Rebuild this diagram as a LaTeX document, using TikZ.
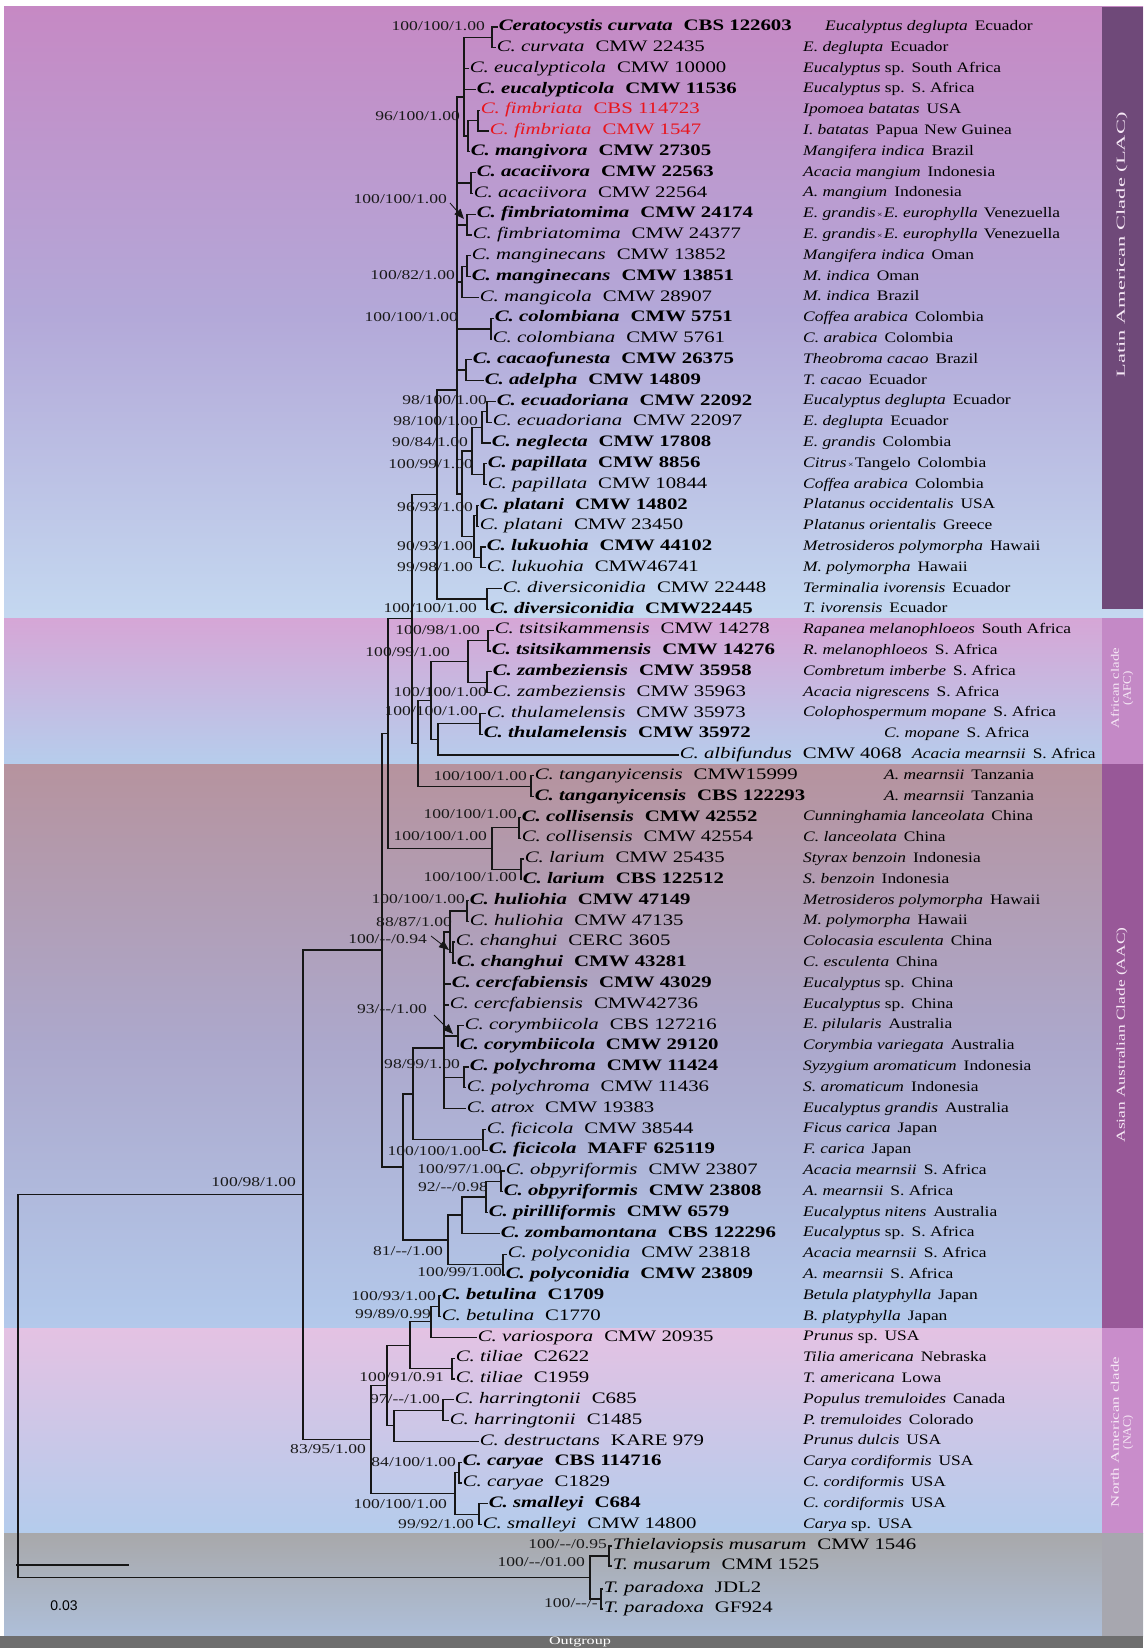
\documentclass[tikz,border=0pt]{standalone}
\usepackage{fontspec}
\usepackage{graphicx}
\setmainfont[FakeStretch=1.3]{Liberation Serif}
\newfontfamily\hostfont[FakeStretch=1.2]{Liberation Serif}
\newfontfamily\barfont{Liberation Serif}
\newfontfamily\sbarfont{Liberation Sans}
\usetikzlibrary{arrows.meta}
\definecolor{treec}{HTML}{161616}
\definecolor{redc}{HTML}{E8161E}
\definecolor{lacA}{HTML}{C689C4}
\definecolor{lacB}{HTML}{B3A8D8}
\definecolor{lacC}{HTML}{C4D8F0}
\definecolor{afcA}{HTML}{D6A6D6}
\definecolor{afcB}{HTML}{B6CDEC}
\definecolor{aacA}{HTML}{B6939E}
\definecolor{aacB}{HTML}{ACA8CC}
\definecolor{aacC}{HTML}{B3C9EB}
\definecolor{nacA}{HTML}{E4C2E3}
\definecolor{nacB}{HTML}{B4CCEC}
\definecolor{outA}{HTML}{A8A8AA}
\definecolor{outB}{HTML}{AEBFD9}
\definecolor{barbot}{HTML}{6E6E6E}
\definecolor{barLAC}{HTML}{6F4979}
\definecolor{barAFC}{HTML}{C489C6}
\definecolor{barAAC}{HTML}{985898}
\definecolor{barNAC}{HTML}{C98DCB}
\definecolor{barOUT}{HTML}{A7A7AF}
\definecolor{bartext}{HTML}{F6E8F6}
\newcommand{\txn}[2]{\textit{#1}\hspace{11pt}#2}
\newcommand{\txb}[2]{{\bfseries\textit{#1}\hspace{11pt}#2}}
\newcommand{\hst}[2]{\textit{#1}\hspace{7pt}#2}
\newcommand{\tms}{{\fontsize{8}{8}\selectfont\,×\,}}
\newcommand{\dd}{-{}-}
\tikzset{
  br/.style={draw=treec, line width=1.1pt},
  thk/.style={draw=treec, line width=2.2pt},
  tax/.style={anchor=west, inner sep=0.6pt, font=\fontsize{16}{18}\selectfont, text height=11pt, text depth=3.5pt, text=black},
  taxr/.style={tax, text=redc},
  hostn/.style={anchor=west, inner sep=0pt, font=\hostfont\fontsize{14.5}{16}\selectfont, text height=10pt, text depth=3pt},
  supl/.style={anchor=east, inner sep=0pt, font=\fontsize{13.5}{15}\selectfont, text height=9.5pt, text depth=2.5pt, text=black!90},
  arr/.style={draw=treec, fill=treec, line width=0.8pt, -{Triangle[length=10pt,width=8pt]}},
  bartxt/.style={rotate=90, text=bartext, font=\barfont, inner sep=0pt, align=center},
}
\begin{document}
\begin{tikzpicture}[x=1pt,y=-1pt]
\useasboundingbox (0,0) rectangle (1143,1648);
\fill[white] (0,0) rectangle (1143,1648);
% background bands
\shade[top color=lacA, bottom color=lacC, middle color=lacB] (4,7) rectangle (1143,618);
\shade[top color=afcA, bottom color=afcB] (4,618) rectangle (1143,764);
\shade[top color=aacA, bottom color=aacC, middle color=aacB] (4,764) rectangle (1143,1328);
\shade[top color=nacA, bottom color=nacB] (4,1328) rectangle (1143,1533);
\shade[top color=outA, bottom color=outB] (4,1533) rectangle (1143,1636);
\fill[barbot] (0,1636) rectangle (1143,1648);
% right clade bars
\fill[barLAC] (1102,7) rectangle (1143,609);
\fill[barAFC] (1102,618) rectangle (1143,764);
\fill[barAAC] (1102,764) rectangle (1143,1328);
\fill[barNAC] (1102,1328) rectangle (1143,1533);
\fill[barOUT] (1102,1533) rectangle (1143,1636);
\node[bartxt] (bLAC) at (1122,245) {\resizebox{265pt}{8.5pt}{Latin American Clade (LAC)}};
\node[bartxt] (bAFC) at (1122,688) {\resizebox{80pt}{8pt}{African clade}\\\resizebox{34pt}{8pt}{(AFC)}};
\node[bartxt] (bAAC) at (1122,1035) {\resizebox{215pt}{8.5pt}{Asian Australian Clade (AAC)}};
\node[bartxt] (bNAC) at (1122,1432) {\resizebox{150pt}{8pt}{North American clade}\\\resizebox{34pt}{8pt}{(NAC)}};
\node[text=white, inner sep=0pt, font=\barfont] (og) at (580,1642) {\resizebox{62pt}{7.5pt}{Outgroup}};
% scale bar
\coordinate (sb1) at (16,1565);
\coordinate (sb2) at (129,1565);
\draw[draw=treec, line width=1.3pt] (sb1) -- (sb2);
\node[font=\sbarfont\fontsize{14}{16}\selectfont, inner sep=0pt] (sbl) at (64,1606) {0.03};
% support labels
\node[supl] (L1) at (485,27) {100/100/1.00};
\node[supl] (L2) at (460,117) {96/100/1.00};
\node[supl] (L3) at (447,200) {100/100/1.00};
\node[supl] (L4) at (455,276) {100/82/1.00};
\node[supl] (L5) at (458,318) {100/100/1.00};
\node[supl] (L6) at (487,401) {98/100/1.00};
\node[supl] (L7) at (478,422) {98/100/1.00};
\node[supl] (L8) at (468,443) {90/84/1.00};
\node[supl] (L9) at (473,465) {100/99/1.00};
\node[supl] (L10) at (473,508) {96/93/1.00};
\node[supl] (L11) at (473,547) {90/93/1.00};
\node[supl] (L12) at (473,568) {99/98/1.00};
\node[supl] (L13) at (477,609) {100/100/1.00};
\node[supl] (L14) at (480,631) {100/98/1.00};
\node[supl] (L15) at (450,653) {100/99/1.00};
\node[supl] (L16) at (487,693) {100/100/1.00};
\node[supl] (L17) at (478,712) {100/100/1.00};
\node[supl] (L18) at (527,777) {100/100/1.00};
\node[supl] (L19) at (517,815) {100/100/1.00};
\node[supl] (L20) at (487,837) {100/100/1.00};
\node[supl] (L21) at (517,878) {100/100/1.00};
\node[supl] (L22) at (465,900) {100/100/1.00};
\node[supl] (L23) at (452,923) {88/87/1.00};
\node[supl] (L24) at (427,940) {100/\dd/0.94};
\node[supl] (L25) at (427,1010) {93/\dd/1.00};
\node[supl] (L26) at (460,1065) {98/99/1.00};
\node[supl] (L27) at (481,1152) {100/100/1.00};
\node[supl] (L28) at (502,1170) {100/97/1.00};
\node[supl] (L29) at (488,1188) {92/\dd/0.98};
\node[supl] (L30) at (443,1252) {81/\dd/1.00};
\node[supl] (L31) at (502,1273) {100/99/1.00};
\node[supl] (L32) at (436,1297) {100/93/1.00};
\node[supl] (L33) at (431,1315) {99/89/0.99};
\node[supl] (L34) at (444,1378) {100/91/0.91};
\node[supl] (L35) at (440,1400) {97/\dd/1.00};
\node[supl] (L36) at (366,1450) {83/95/1.00};
\node[supl] (L37) at (456,1463) {84/100/1.00};
\node[supl] (L38) at (447,1505) {100/100/1.00};
\node[supl] (L39) at (474,1525) {99/92/1.00};
\node[supl] (L40) at (607,1545) {100/\dd/0.95};
\node[supl] (L41) at (585,1563) {100/\dd/01.00};
\node[supl] (L42) at (598,1604) {100/\dd/-};
\node[supl] (L43) at (296,1183) {100/98/1.00};
% taxa
\node[tax] (t1) at (498,27) {\txb{Ceratocystis curvata}{CBS 122603}};
\node[tax] (t2) at (496,47.8) {\txn{C. curvata}{CMW 22435}};
\node[tax] (t3) at (469,68.6) {\txn{C. eucalypticola}{CMW 10000}};
\node[tax] (t4) at (476,89.4) {\txb{C. eucalypticola}{CMW 11536}};
\node[taxr] (t5) at (480,110.2) {\txn{C. fimbriata}{CBS 114723}};
\node[taxr] (t6) at (489,131) {\txn{C. fimbriata}{CMW 1547}};
\node[tax] (t7) at (470,151.8) {\txb{C. mangivora}{CMW 27305}};
\node[tax] (t8) at (476,172.6) {\txb{C. acaciivora}{CMW 22563}};
\node[tax] (t9) at (473,193.4) {\txn{C. acaciivora}{CMW 22564}};
\node[tax] (t10) at (476,214.2) {\txb{C. fimbriatomima}{CMW 24174}};
\node[tax] (t11) at (472,235) {\txn{C. fimbriatomima}{CMW 24377}};
\node[tax] (t12) at (471,255.8) {\txn{C. manginecans}{CMW 13852}};
\node[tax] (t13) at (471,276.6) {\txb{C. manginecans}{CMW 13851}};
\node[tax] (t14) at (479,297.4) {\txn{C. mangicola}{CMW 28907}};
\node[tax] (t15) at (494,318.2) {\txb{C. colombiana}{CMW 5751}};
\node[tax] (t16) at (492,339) {\txn{C. colombiana}{CMW 5761}};
\node[tax] (t17) at (472,359.8) {\txb{C. cacaofunesta}{CMW 26375}};
\node[tax] (t18) at (484,380.6) {\txb{C. adelpha}{CMW 14809}};
\node[tax] (t19) at (496,401.4) {\txb{C. ecuadoriana}{CMW 22092}};
\node[tax] (t20) at (492,422.2) {\txn{C. ecuadoriana}{CMW 22097}};
\node[tax] (t21) at (491,443) {\txb{C. neglecta}{CMW 17808}};
\node[tax] (t22) at (487,463.8) {\txb{C. papillata}{CMW 8856}};
\node[tax] (t23) at (487,484.6) {\txn{C. papillata}{CMW 10844}};
\node[tax] (t24) at (479,505.4) {\txb{C. platani}{CMW 14802}};
\node[tax] (t25) at (479,526.2) {\txn{C. platani}{CMW 23450}};
\node[tax] (t26) at (486,547) {\txb{C. lukuohia}{CMW 44102}};
\node[tax] (t27) at (486,567.8) {\txn{C. lukuohia}{CMW46741}};
\node[tax] (t28) at (502,588.6) {\txn{C. diversiconidia}{CMW 22448}};
\node[tax] (t29) at (489,609.4) {\txb{C. diversiconidia}{CMW22445}};
\node[tax] (t30) at (494,630.2) {\txn{C. tsitsikammensis}{CMW 14278}};
\node[tax] (t31) at (491,651) {\txb{C. tsitsikammensis}{CMW 14276}};
\node[tax] (t32) at (492,671.8) {\txb{C. zambeziensis}{CMW 35958}};
\node[tax] (t33) at (492,692.6) {\txn{C. zambeziensis}{CMW 35963}};
\node[tax] (t34) at (486,713.4) {\txn{C. thulamelensis}{CMW 35973}};
\node[tax] (t35) at (483,734.2) {\txb{C. thulamelensis}{CMW 35972}};
\node[tax] (t36) at (679,755) {\txn{C. albifundus}{CMW 4068}};
\node[tax] (t37) at (534,775.8) {\txn{C. tanganyicensis}{CMW15999}};
\node[tax] (t38) at (534,796.6) {\txb{C. tanganyicensis}{CBS 122293}};
\node[tax] (t39) at (521,817.4) {\txb{C. collisensis}{CMW 42552}};
\node[tax] (t40) at (521,838.2) {\txn{C. collisensis}{CMW 42554}};
\node[tax] (t41) at (524,859) {\txn{C. larium}{CMW 25435}};
\node[tax] (t42) at (522,879.8) {\txb{C. larium}{CBS 122512}};
\node[tax] (t43) at (469,900.6) {\txb{C. huliohia}{CMW 47149}};
\node[tax] (t44) at (469,921.4) {\txn{C. huliohia}{CMW 47135}};
\node[tax] (t45) at (455,942.2) {\txn{C. changhui}{CERC\hspace{6pt}3605}};
\node[tax] (t46) at (456,963) {\txb{C. changhui}{CMW 43281}};
\node[tax] (t47) at (451,983.8) {\txb{C. cercfabiensis}{CMW 43029}};
\node[tax] (t48) at (449,1004.6) {\txn{C. cercfabiensis}{CMW42736}};
\node[tax] (t49) at (464,1025.4) {\txn{C. corymbiicola}{CBS 127216}};
\node[tax] (t50) at (459,1046.2) {\txb{C. corymbiicola}{CMW 29120}};
\node[tax] (t51) at (469,1067) {\txb{C. polychroma}{CMW 11424}};
\node[tax] (t52) at (466,1087.8) {\txn{C. polychroma}{CMW 11436}};
\node[tax] (t53) at (466,1108.6) {\txn{C. atrox}{CMW 19383}};
\node[tax] (t54) at (486,1129.4) {\txn{C. ficicola}{CMW 38544}};
\node[tax] (t55) at (488,1150.2) {\txb{C. ficicola}{MAFF\hspace{6pt}625119}};
\node[tax] (t56) at (505,1171) {\txn{C. obpyriformis}{CMW 23807}};
\node[tax] (t57) at (503,1191.8) {\txb{C. obpyriformis}{CMW 23808}};
\node[tax] (t58) at (488,1212.6) {\txb{C. pirilliformis}{CMW 6579}};
\node[tax] (t59) at (500,1233.4) {\txb{C. zombamontana}{CBS 122296}};
\node[tax] (t60) at (507,1254.2) {\txn{C. polyconidia}{CMW 23818}};
\node[tax] (t61) at (505,1275) {\txb{C. polyconidia}{CMW 23809}};
\node[tax] (t62) at (441,1295.8) {\txb{C. betulina}{C1709}};
\node[tax] (t63) at (441,1316.6) {\txn{C. betulina}{C1770}};
\node[tax] (t64) at (477,1337.4) {\txn{C. variospora}{CMW 20935}};
\node[tax] (t65) at (455,1358.2) {\txn{C. tiliae}{C2622}};
\node[tax] (t66) at (455,1379) {\txn{C. tiliae}{C1959}};
\node[tax] (t67) at (454,1399.8) {\txn{C. harringtonii}{C685}};
\node[tax] (t68) at (449,1420.6) {\txn{C. harringtonii}{C1485}};
\node[tax] (t69) at (479,1441.4) {\txn{C. destructans}{KARE 979}};
\node[tax] (t70) at (462,1462.2) {\txb{C. caryae}{CBS 114716}};
\node[tax] (t71) at (462,1483) {\txn{C. caryae}{C1829}};
\node[tax] (t72) at (488,1503.8) {\txb{C. smalleyi}{C684}};
\node[tax] (t73) at (482,1524.6) {\txn{C. smalleyi}{CMW 14800}};
\node[tax] (t74) at (612,1546) {\txn{Thielaviopsis musarum}{CMW 1546}};
\node[tax] (t75) at (612,1566) {\txn{T. musarum}{CMM 1525}};
\node[tax] (t76) at (603,1589) {\txn{T. paradoxa}{JDL2}};
\node[tax] (t77) at (603,1609) {\txn{T. paradoxa}{GF924}};
% hosts
\node[hostn] (h1) at (825,27) {\hst{Eucalyptus deglupta}{Ecuador}};
\node[hostn] (h2) at (803,47.8) {\hst{E. deglupta}{Ecuador}};
\node[hostn] (h3) at (803,68.6) {\textit{Eucalyptus} sp.\hspace{7pt}South Africa};
\node[hostn] (h4) at (803,89.4) {\textit{Eucalyptus} sp.\hspace{7pt}S. Africa};
\node[hostn] (h5) at (803,110.2) {\hst{Ipomoea batatas}{USA}};
\node[hostn] (h6) at (803,131) {\hst{I. batatas}{Papua\hspace{6pt}New Guinea}};
\node[hostn] (h7) at (803,151.8) {\hst{Mangifera indica}{Brazil}};
\node[hostn] (h8) at (803,172.6) {\hst{Acacia mangium}{Indonesia}};
\node[hostn] (h9) at (803,193.4) {\hst{A. mangium}{Indonesia}};
\node[hostn] (h10) at (803,214.2) {\textit{E. grandis}\tms\textit{E. europhylla}\hspace{6pt}Venezuella};
\node[hostn] (h11) at (803,235) {\textit{E. grandis}\tms\textit{E. europhylla}\hspace{6pt}Venezuella};
\node[hostn] (h12) at (803,255.8) {\hst{Mangifera indica}{Oman}};
\node[hostn] (h13) at (803,276.6) {\hst{M. indica}{Oman}};
\node[hostn] (h14) at (803,297.4) {\hst{M. indica}{Brazil}};
\node[hostn] (h15) at (803,318.2) {\hst{Coffea arabica}{Colombia}};
\node[hostn] (h16) at (803,339) {\hst{C. arabica}{Colombia}};
\node[hostn] (h17) at (803,359.8) {\hst{Theobroma cacao}{Brazil}};
\node[hostn] (h18) at (803,380.6) {\hst{T. cacao}{Ecuador}};
\node[hostn] (h19) at (803,401.4) {\hst{Eucalyptus deglupta}{Ecuador}};
\node[hostn] (h20) at (803,422.2) {\hst{E. deglupta}{Ecuador}};
\node[hostn] (h21) at (803,443) {\hst{E. grandis}{Colombia}};
\node[hostn] (h22) at (803,463.8) {\textit{Citrus}\tms Tangelo\hspace{7pt}Colombia};
\node[hostn] (h23) at (803,484.6) {\hst{Coffea arabica}{Colombia}};
\node[hostn] (h24) at (803,505.4) {\hst{Platanus occidentalis}{USA}};
\node[hostn] (h25) at (803,526.2) {\hst{Platanus orientalis}{Greece}};
\node[hostn] (h26) at (803,547) {\hst{Metrosideros polymorpha}{Hawaii}};
\node[hostn] (h27) at (803,567.8) {\hst{M. polymorpha}{Hawaii}};
\node[hostn] (h28) at (803,588.6) {\hst{Terminalia ivorensis}{Ecuador}};
\node[hostn] (h29) at (803,609.4) {\hst{T. ivorensis}{Ecuador}};
\node[hostn] (h30) at (803,630.2) {\hst{Rapanea melanophloeos}{South Africa}};
\node[hostn] (h31) at (803,651) {\hst{R. melanophloeos}{S. Africa}};
\node[hostn] (h32) at (803,671.8) {\hst{Combretum imberbe}{S. Africa}};
\node[hostn] (h33) at (803,692.6) {\hst{Acacia nigrescens}{S. Africa}};
\node[hostn] (h34) at (803,713.4) {\hst{Colophospermum mopane}{S. Africa}};
\node[hostn] (h35) at (884,734.2) {\hst{C. mopane}{S. Africa}};
\node[hostn] (h36) at (912,755) {\hst{Acacia mearnsii}{S. Africa}};
\node[hostn] (h37) at (884,775.8) {\hst{A. mearnsii}{Tanzania}};
\node[hostn] (h38) at (884,796.6) {\hst{A. mearnsii}{Tanzania}};
\node[hostn] (h39) at (803,817.4) {\hst{Cunninghamia lanceolata}{China}};
\node[hostn] (h40) at (803,838.2) {\hst{C. lanceolata}{China}};
\node[hostn] (h41) at (803,859) {\hst{Styrax benzoin}{Indonesia}};
\node[hostn] (h42) at (803,879.8) {\hst{S. benzoin}{Indonesia}};
\node[hostn] (h43) at (803,900.6) {\hst{Metrosideros polymorpha}{Hawaii}};
\node[hostn] (h44) at (803,921.4) {\hst{M. polymorpha}{Hawaii}};
\node[hostn] (h45) at (803,942.2) {\hst{Colocasia esculenta}{China}};
\node[hostn] (h46) at (803,963) {\hst{C. esculenta}{China}};
\node[hostn] (h47) at (803,983.8) {\textit{Eucalyptus} sp.\hspace{7pt}China};
\node[hostn] (h48) at (803,1004.6) {\textit{Eucalyptus} sp.\hspace{7pt}China};
\node[hostn] (h49) at (803,1025.4) {\hst{E. pilularis}{Australia}};
\node[hostn] (h50) at (803,1046.2) {\hst{Corymbia variegata}{Australia}};
\node[hostn] (h51) at (803,1067) {\hst{Syzygium aromaticum}{Indonesia}};
\node[hostn] (h52) at (803,1087.8) {\hst{S. aromaticum}{Indonesia}};
\node[hostn] (h53) at (803,1108.6) {\hst{Eucalyptus grandis}{Australia}};
\node[hostn] (h54) at (803,1129.4) {\hst{Ficus carica}{Japan}};
\node[hostn] (h55) at (803,1150.2) {\hst{F. carica}{Japan}};
\node[hostn] (h56) at (803,1171) {\hst{Acacia mearnsii}{S. Africa}};
\node[hostn] (h57) at (803,1191.8) {\hst{A. mearnsii}{S. Africa}};
\node[hostn] (h58) at (803,1212.6) {\hst{Eucalyptus nitens}{Australia}};
\node[hostn] (h59) at (803,1233.4) {\textit{Eucalyptus} sp.\hspace{7pt}S. Africa};
\node[hostn] (h60) at (803,1254.2) {\hst{Acacia mearnsii}{S. Africa}};
\node[hostn] (h61) at (803,1275) {\hst{A. mearnsii}{S. Africa}};
\node[hostn] (h62) at (803,1295.8) {\hst{Betula platyphylla}{Japan}};
\node[hostn] (h63) at (803,1316.6) {\hst{B. platyphylla}{Japan}};
\node[hostn] (h64) at (803,1337.4) {\textit{Prunus} sp.\hspace{7pt}USA};
\node[hostn] (h65) at (803,1358.2) {\hst{Tilia americana}{Nebraska}};
\node[hostn] (h66) at (803,1379) {\hst{T. americana}{Lowa}};
\node[hostn] (h67) at (803,1399.8) {\hst{Populus tremuloides}{Canada}};
\node[hostn] (h68) at (803,1420.6) {\hst{P. tremuloides}{Colorado}};
\node[hostn] (h69) at (803,1441.4) {\hst{Prunus dulcis}{USA}};
\node[hostn] (h70) at (803,1462.2) {\hst{Carya cordiformis}{USA}};
\node[hostn] (h71) at (803,1483) {\hst{C. cordiformis}{USA}};
\node[hostn] (h72) at (803,1503.8) {\hst{C. cordiformis}{USA}};
\node[hostn] (h73) at (803,1524.6) {\textit{Carya} sp.\hspace{7pt}USA};
% internal nodes
\coordinate (ncurv) at (492,37.4);
\coordinate (nfim) at (478,120.6);
\coordinate (nfm) at (468,136);
\coordinate (ng1) at (464,97);
\coordinate (naca) at (471,183);
\coordinate (nfimm) at (467,224.6);
\coordinate (nmgp) at (467,266.2);
\coordinate (nmang) at (462,282);
\coordinate (ncol) at (491,328.6);
\coordinate (nca) at (466,370.2);
\coordinate (necu) at (487,411.8);
\coordinate (necn) at (482,427.4);
\coordinate (npap) at (484,474.2);
\coordinate (necnp) at (472,451);
\coordinate (nplat) at (477,515.8);
\coordinate (nluk) at (481,557.4);
\coordinate (npl) at (474,536.6);
\coordinate (nlow) at (462,494);
\coordinate (ncore1) at (457,390);
\coordinate (ndiv) at (487,599);
\coordinate (nLAC) at (437,494.5);
\coordinate (ntsi) at (488,640.6);
\coordinate (nzam) at (487,682.2);
\coordinate (ntz) at (468,661.4);
\coordinate (nthu) at (480,723.8);
\coordinate (nthal) at (438,739.4);
\coordinate (nafc) at (431,700.4);
\coordinate (ntan) at (531,786.2);
\coordinate (nafcT) at (418,743.3);
\coordinate (n412) at (412,618.9);
\coordinate (ncoll) at (519,827.8);
\coordinate (nlar) at (521,869.4);
\coordinate (ncl) at (492,848.6);
\coordinate (n388) at (388,733.7);
\coordinate (nhul) at (467,911);
\coordinate (nchg) at (453,952.6);
\coordinate (nhc) at (450,932);
\coordinate (ncor) at (458,1035.8);
\coordinate (npoly) at (464,1077.4);
\coordinate (ncore) at (444,1048);
\coordinate (nfic) at (483,1139.8);
\coordinate (n413) at (413,1094);
\coordinate (nobpair) at (501,1181.4);
\coordinate (nobp) at (486,1197);
\coordinate (nob) at (462,1215);
\coordinate (npc) at (503,1264.6);
\coordinate (n448) at (448,1240);
\coordinate (n403) at (403,1167);
\coordinate (n382) at (382,950);
\coordinate (nbet) at (439,1306.2);
\coordinate (nbv) at (431,1321.8);
\coordinate (ntil) at (452,1368.6);
\coordinate (n410) at (410,1345.2);
\coordinate (nhar) at (443,1410.2);
\coordinate (nhd) at (394,1425.8);
\coordinate (n387) at (387,1385.5);
\coordinate (ncar) at (459,1472.6);
\coordinate (nsma) at (479,1514.2);
\coordinate (ncs) at (455,1493.4);
\coordinate (n371) at (371,1439.5);
\coordinate (n303) at (303,1194.7);
\coordinate (nmus) at (609,1556);
\coordinate (npar) at (601,1599);
\coordinate (nout) at (590,1577.5);
\coordinate (nroot) at (18,1386);
% edges: LAC
\draw[br] (ncurv) |- (t1.west) (ncurv) |- (t2.west);
\draw[br] (nfim) |- (t5.west) (nfim) |- (t6.west);
\draw[br] (nfm) |- (nfim) (nfm) |- (t7.west);
\draw[br] (ng1) |- (ncurv) (ng1) |- (t3.west) (ng1) |- (t4.west) (ng1) |- (nfm);
\draw[br] (naca) |- (t8.west) (naca) |- (t9.west);
\draw[br] (nfimm) |- (t10.west) (nfimm) |- (t11.west);
\draw[br] (nmgp) |- (t12.west) (nmgp) |- (t13.west);
\draw[br] (nmang) |- (nmgp) (nmang) |- (t14.west);
\draw[br] (ncol) |- (t15.west) (ncol) |- (t16.west);
\draw[br] (nca) |- (t17.west) (nca) |- (t18.west);
\draw[br] (necu) |- (t19.west) (necu) |- (t20.west);
\draw[br] (necn) |- (necu) (necn) |- (t21.west);
\draw[br] (npap) |- (t22.west) (npap) |- (t23.west);
\draw[br] (necnp) |- (necn) (necnp) |- (npap);
\draw[br] (nplat) |- (t24.west) (nplat) |- (t25.west);
\draw[br] (nluk) |- (t26.west) (nluk) |- (t27.west);
\draw[br] (npl) |- (nplat) (npl) |- (nluk);
\draw[br] (nlow) |- (necnp) (nlow) |- (npl);
\draw[thk] (ncore1) |- (ng1) (ncore1) |- (naca) (ncore1) |- (nfimm) (ncore1) |- (nmang) (ncore1) |- (ncol) (ncore1) |- (nca);
\draw[br] (ncore1) |- (nlow);
\draw[br] (ndiv) |- (t28.west) (ndiv) |- (t29.west);
\draw[br] (nLAC) |- (ncore1) (nLAC) |- (ndiv);
% AFC
\draw[br] (ntsi) |- (t30.west) (ntsi) |- (t31.west);
\draw[br] (nzam) |- (t32.west) (nzam) |- (t33.west);
\draw[br] (ntz) |- (ntsi) (ntz) |- (nzam);
\draw[br] (nthu) |- (t34.west) (nthu) |- (t35.west);
\draw[br] (nthal) |- (nthu) (nthal) |- (t36.west);
\draw[br] (nafc) |- (ntz) (nafc) |- (nthal);
\draw[br] (ntan) |- (t37.west) (ntan) |- (t38.west);
\draw[br] (nafcT) |- (nafc) (nafcT) |- (ntan);
\draw[br] (n412) |- (nLAC) (n412) |- (nafcT);
% AAC
\draw[br] (ncoll) |- (t39.west) (ncoll) |- (t40.west);
\draw[br] (nlar) |- (t41.west) (nlar) |- (t42.west);
\draw[br] (ncl) |- (ncoll) (ncl) |- (nlar);
\draw[br] (n388) |- (n412) (n388) |- (ncl);
\draw[br] (nhul) |- (t43.west) (nhul) |- (t44.west);
\draw[thk] (nchg) |- (t45.west) (nchg) |- (t46.west);
\draw[br] (nhc) |- (nhul) (nhc) |- (nchg);
\draw[br] (ncor) |- (t49.west) (ncor) |- (t50.west);
\draw[br] (npoly) |- (t51.west) (npoly) |- (t52.west);
\draw[thk] (ncore) |- (nhc) (ncore) |- (t47.west) (ncore) |- (t48.west) (ncore) |- (ncor);
\draw[br] (ncore) |- (npoly) (ncore) |- (t53.west);
\draw[br] (nfic) |- (t54.west) (nfic) |- (t55.west);
\draw[br] (n413) |- (ncore) (n413) |- (nfic);
\draw[br] (nobpair) |- (t56.west) (nobpair) |- (t57.west);
\draw[br] (nobp) |- (nobpair) (nobp) |- (t58.west);
\draw[br] (nob) |- (nobp) (nob) |- (t59.west);
\draw[br] (npc) |- (t60.west) (npc) |- (t61.west);
\draw[br] (n448) |- (nob) (n448) |- (npc);
\draw[br] (n403) |- (n413) (n403) |- (n448);
\draw[br] (n382) |- (n388) (n382) |- (n403);
% NAC
\draw[br] (nbet) |- (t62.west) (nbet) |- (t63.west);
\draw[br] (nbv) |- (nbet) (nbv) |- (t64.west);
\draw[br] (ntil) |- (t65.west) (ntil) |- (t66.west);
\draw[br] (n410) |- (nbv) (n410) |- (ntil);
\draw[br] (nhar) |- (t67.west) (nhar) |- (t68.west);
\draw[br] (nhd) |- (nhar) (nhd) |- (t69.west);
\draw[br] (n387) |- (n410) (n387) |- (nhd);
\draw[br] (ncar) |- (t70.west) (ncar) |- (t71.west);
\draw[br] (nsma) |- (t72.west) (nsma) |- (t73.west);
\draw[br] (ncs) |- (ncar) (ncs) |- (nsma);
\draw[br] (n371) |- (n387) (n371) |- (ncs);
\draw[br] (n303) |- (n382) (n303) |- (n371);
% outgroup and root
\draw[br] (nmus) |- (t74.west) (nmus) |- (t75.west);
\draw[br] (npar) |- (t76.west) (npar) |- (t77.west);
\draw[br] (nout) |- (nmus) (nout) |- (npar);
\draw[br] (nroot) |- (n303) (nroot) |- (nout);
% arrows
\coordinate (a1s) at (450,203); \coordinate (a1e) at (464,219);
\coordinate (a2s) at (431,936); \coordinate (a2e) at (449,950);
\coordinate (a3s) at (434,1015); \coordinate (a3e) at (453,1034);
\draw[arr] (a1s) -- (a1e);
\draw[arr] (a2s) -- (a2e);
\draw[arr] (a3s) -- (a3e);
\end{tikzpicture}
\end{document}
